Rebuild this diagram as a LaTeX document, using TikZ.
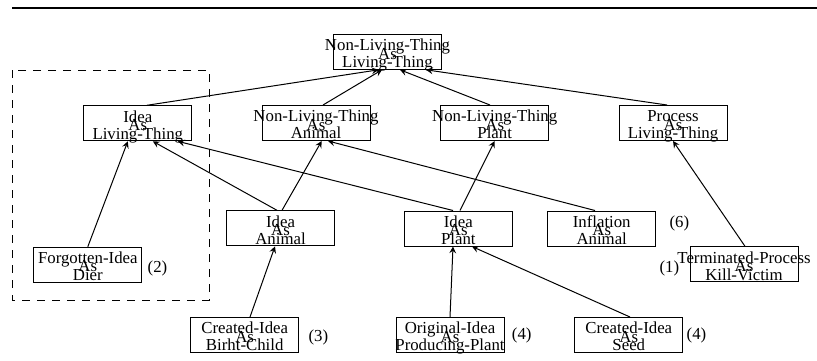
\documentclass[tikz,border=0pt]{standalone}
\usepackage{fontspec}
\setmainfont{Liberation Serif}
\usetikzlibrary{positioning}
% three stacked lines, the middle "As" squeezed between the others
\newcommand{\cpt}[3]{\vbox to 17.5pt{\baselineskip=4.25pt\lineskiplimit=-\maxdimen
  \kern2.3pt\hbox to 0pt{\hss\rule{0pt}{5.7pt}#1\hss}%
  \hbox to 0pt{\hss#2\hss}\hbox to 0pt{\hss#3\hss}\vss}}

\begin{document}
\begin{tikzpicture}[x=0.5pt,y=-0.5pt,
    cbox/.style={draw, line width=0.5pt, inner sep=0pt, minimum width=54pt,
      minimum height=17.5pt, font=\fontsize{8.4}{10}\selectfont},
    tag/.style={inner sep=0pt, font=\fontsize{8.4}{10}\selectfont}]
  \useasboundingbox (0,0) rectangle (817,360);
  \draw[line width=1pt] (12,8) -- (817,8);
  \draw[line width=0.5pt, dash pattern=on 4pt off 3.5pt] (12,70) rectangle (209,300);

  \node[cbox] (root) at (387.5,51.8) {\cpt{Non-Living-Thing}{As}{Living-Thing}};
  \node[cbox] (ilt) at (137.8,123.3) {\cpt{Idea}{As}{Living-Thing}};
  \node[cbox] (nla) at (316,123) {\cpt{Non-Living-Thing}{As}{Animal}};
  \node[cbox] (nlp) at (494.7,123) {\cpt{Non-Living-Thing}{As}{Plant}};
  \node[cbox] (plt) at (673,123) {\cpt{Process}{As}{Living-Thing}};
  \node[cbox] (ian) at (280.5,228.3) {\cpt{Idea}{As}{Animal}};
  \node[cbox] (ipl) at (458.3,228.5) {\cpt{Idea}{As}{Plant}};
  \node[cbox] (ina) at (601.7,228.5) {\cpt{Inflation}{As}{Animal}};
  \node[cbox] (tpk) at (744,264.3) {\cpt{Terminated-Process}{As}{Kill-Victim}};
  \node[cbox] (fid) at (87.8,264.7) {\cpt{Forgotten-Idea}{As}{Dier}};
  \node[cbox] (cib) at (244.7,335) {\cpt{Created-Idea}{As}{Birht-Child}};
  \node[cbox] (oip) at (450,335) {\cpt{Original-Idea}{As}{Producing-Plant}};
  \node[cbox] (cis) at (628.8,335) {\cpt{Created-Idea}{As}{Seed}};

  \node[tag, right=2.5pt of fid, yshift=-2pt] (t2) {(2)};
  \node[tag, right=4.5pt of cib, yshift=-1pt] (t3) {(3)};
  \node[tag, right=3.5pt of oip] (t4a) {(4)};
  \node[tag, right=1.5pt of cis] (t4b) {(4)};
  \node[tag, right=6.5pt of ina, yshift=2.5pt] (t6) {(6)};
  \node[tag, left=5pt of tpk, yshift=-2pt] (t1) {(1)};

  \path[-stealth, line width=0.5pt]
    ([xshift=4.5pt]ilt.north) edge ([xshift=-4.5pt]root.south)
    ([xshift=3.5pt]nla.north) edge ([xshift=-2.75pt]root.south)
    ([xshift=-2.35pt]nlp.north) edge ([xshift=6.25pt]root.south)
    ([xshift=-3pt]plt.north) edge ([xshift=19.25pt]root.south)
    (fid.north) edge ([xshift=-5pt]ilt.south)
    ([xshift=-1.75pt]ian.north) edge ([xshift=7.5pt]ilt.south)
    ([xshift=0.75pt]ian.north) edge ([xshift=2.85pt]nla.south)
    ([xshift=-2.65pt]ipl.north) edge ([xshift=20pt]ilt.south)
    ([xshift=0.85pt]ipl.north) edge (nlp.south)
    ([xshift=-3.35pt]ina.north) edge ([xshift=6pt]nla.south)
    ([xshift=0.5pt]tpk.north) edge (plt.south)
    ([xshift=2.65pt]cib.north) edge ([xshift=-2.75pt]ian.south)
    (oip.north) edge ([xshift=-2.65pt]ipl.south)
    ([xshift=0.6pt]cis.north) edge ([xshift=6.85pt]ipl.south);
\end{tikzpicture}
\end{document}
